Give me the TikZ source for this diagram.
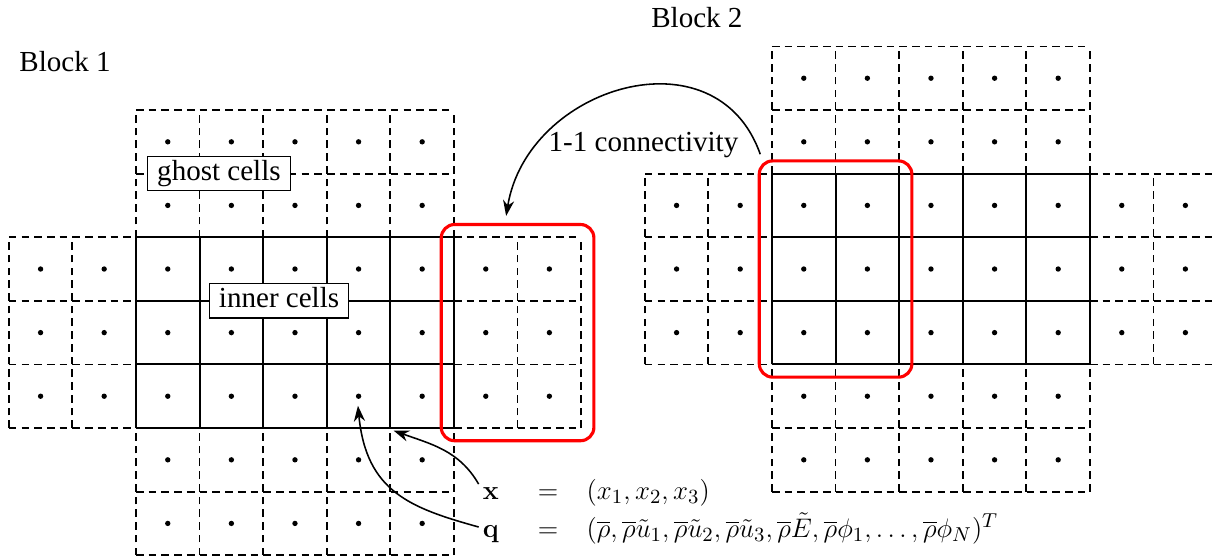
\documentclass[tikz,border=0pt]{standalone}
\usepackage[no-math]{fontspec}
\setmainfont{Liberation Serif}
\usetikzlibrary{arrows.meta,calc}
\tikzset{
  ghost/.style={line width=0.8pt, dash pattern=on 3.4pt off 2.3pt},
  innergrid/.style={line width=0.85pt},
  redbox/.style={draw=red, line width=1.4pt, rounded corners=6pt, minimum width=2.4cm, minimum height=3.4cm, inner sep=0pt},
  lbl/.style={draw, line width=0.5pt, fill=white, inner xsep=4.3pt, inner ysep=1.8pt, text height=9pt, text depth=2.8pt, font=\fontsize{13}{16}\selectfont},
  txt/.style={font=\fontsize{13}{16}\selectfont},
  eq/.style={inner sep=0pt, font=\fontsize{13}{16}\selectfont},
  conn/.style={line width=0.7pt, -{Stealth[length=7pt,width=5pt]}},
}
\begin{document}
\begin{tikzpicture}
\useasboundingbox (-2.138,-2.075) rectangle (16.95,6.730);
% blocks
\foreach \ox/\oy in {0/0,10/1}{
  \begin{scope}[shift={(\ox,\oy)}]
    \draw[ghost] (0,3) grid (5,5);
    \draw[ghost] (0,-2) grid (5,0);
    \draw[ghost] (-2,0) grid (0,3);
    \draw[ghost] (5,0) grid (7,3);
    \foreach \i in {0,...,4}{
      \foreach \j in {-2,-1,3,4}{
        \fill (\i+0.5,\j+0.5) circle[radius=1.2pt];
      }
    }
    \foreach \i in {-2,-1,5,6}{
      \foreach \j in {0,1,2}{
        \fill (\i+0.5,\j+0.5) circle[radius=1.2pt];
      }
    }
    \draw[innergrid] (0,0) grid (5,3);
    \foreach \i in {0,...,4}{
      \foreach \j in {0,1,2}{
        \fill (\i+0.5,\j+0.5) circle[radius=1.2pt];
      }
    }
  \end{scope}
}
% red boxes
\node[redbox] (r1) at (6,1.5) {};
\node[redbox] (r2) at (11,2.5) {};
% labels
\node[lbl] (gc) at (1.305,4.0) {ghost cells};
\node[lbl] (ic) at (2.25,2.0) {inner cells};
\node[txt] (b1) at (-1.116,5.755) {Block 1};
\node[txt] (b2) at (8.82,6.46) {Block 2};
\node[txt] (cl) at (7.98,4.45) {1-1 connectivity};
% connectivity arrow
\draw[conn] ([shift={(0.04,0.08)}]r2.north west) .. controls +(-0.69,1.97) and +(0.33,2.04) .. ([shift={(-0.18,0.11)}]r1.north);
% equations
\node[eq, anchor=base] (xl) at (5.58,-1.116) {$\mathbf{x}$};
\node[eq, anchor=base] (xe) at (6.48,-1.116) {$=$};
\node[eq, anchor=base west] (xr) at (7.08,-1.116) {$(x_1,x_2,x_3)$};
\node[eq, anchor=base] (ql) at (5.58,-1.714) {$\mathbf{q}$};
\node[eq, anchor=base] (qe) at (6.48,-1.714) {$=$};
\node[eq, anchor=base west] (qr) at (7.08,-1.714) {$(\overline{\rho},\overline{\rho}\tilde{u}_1,\overline{\rho}\tilde{u}_2,\overline{\rho}\tilde{u}_3,\overline{\rho}\tilde{E},\overline{\rho}\phi_1,\ldots,\overline{\rho}\phi_N)^T$};
% pointers
\coordinate (xv) at (4.05,-0.04);
\coordinate (qv) at (3.49,0.35);
\draw[conn] ([shift={(-0.06,0.04)}]xl.north west) to[out=120,in=-20] (xv);
\draw[conn] ([shift={(-0.06,0.105)}]ql.west) .. controls +(-1.08,0.30) and +(0.13,-1.35) .. (qv);
\end{tikzpicture}
\end{document}
